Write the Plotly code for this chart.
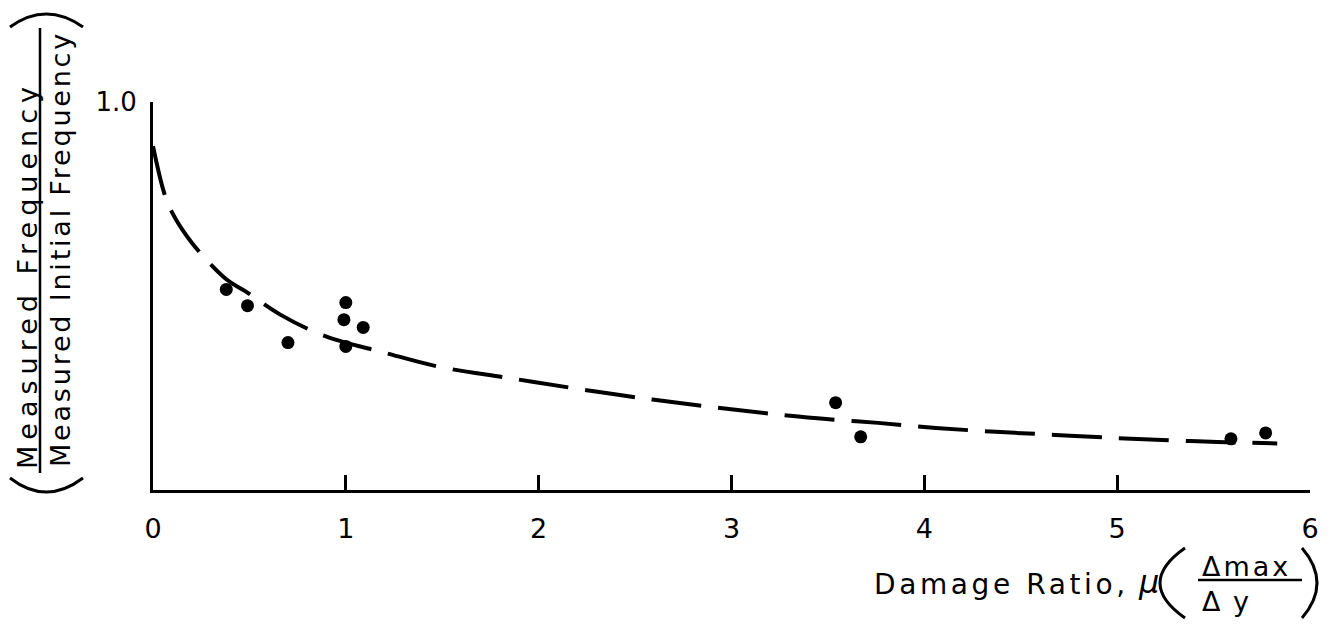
import plotly.graph_objects as go

# ---- data ----
damage_ratio = [0.38, 0.49, 0.70, 1.00, 0.99, 1.09, 1.00, 3.54, 3.67, 5.59, 5.77]
freq_ratio = [0.517, 0.475, 0.380, 0.483, 0.439, 0.419, 0.370, 0.225, 0.137, 0.132, 0.147]

curve_x = [0.0, 0.057, 0.098, 0.20, 0.38, 0.48, 0.66, 0.90, 1.20, 1.48, 1.84, 2.20,
           2.59, 2.93, 3.25, 3.54, 3.76, 4.06, 4.37, 4.68, 4.99, 5.27, 5.52, 5.83]
curve_y = [0.886, 0.767, 0.716, 0.638, 0.543, 0.512, 0.452, 0.395, 0.354, 0.318, 0.289, 0.261,
           0.233, 0.212, 0.194, 0.181, 0.173, 0.160, 0.150, 0.142, 0.134, 0.128, 0.124, 0.120]

x_ticks = [0, 1, 2, 3, 4, 5, 6]
x_ticklabels = ["0", "1", "2", "3", "4", "5", "6"]
y_ticks = [1.0]
y_ticklabels = ["1.0"]

FONT = "DejaVu Sans"
W, H = 1337, 626
L, R, T, B = 153, 27, 102, 136


def px(xp):
    return (xp - L) / (W - L - R)


def py(yp):
    return (H - B - yp) / (H - T - B)


fig = go.Figure()
fig.add_trace(go.Scatter(
    x=curve_x, y=curve_y, mode="lines", line=dict(color="black", width=4, dash="50px,17px", shape="spline"),
    hoverinfo="skip", showlegend=False))
fig.add_trace(go.Scatter(
    x=damage_ratio, y=freq_ratio, mode="markers", marker=dict(color="black", size=13),
    showlegend=False))

ann = []
# y-axis title (fraction)
ann.append(dict(x=px(27), y=py(275), xref="paper", yref="paper", textangle=-90, showarrow=False,
                text='<span style="letter-spacing:6px">Measured Frequency</span>',
                font=dict(family=FONT, size=27, color="black"), xanchor="center", yanchor="middle"))
ann.append(dict(x=px(60), y=py(249), xref="paper", yref="paper", textangle=-90, showarrow=False,
                text='<span style="letter-spacing:2.8px">Measured Initial Frequency</span>',
                font=dict(family=FONT, size=27, color="black"), xanchor="center", yanchor="middle"))
# x-axis title
ann.append(dict(x=px(872), y=py(584), xref="paper", yref="paper", showarrow=False,
                text='<span style="letter-spacing:3.6px">Damage Ratio,</span>',
                font=dict(family=FONT, size=28, color="black"), xanchor="left", yanchor="middle"))
ann.append(dict(x=px(1148), y=py(582), xref="paper", yref="paper", showarrow=False,
                text='<i>μ</i>', font=dict(family=FONT, size=32, color="black"),
                xanchor="center", yanchor="middle"))
ann.append(dict(x=px(1200), y=py(566), xref="paper", yref="paper", showarrow=False,
                text='<span style="letter-spacing:3px">Δmax</span>',
                font=dict(family=FONT, size=27, color="black"), xanchor="left", yanchor="middle"))
ann.append(dict(x=px(1200), y=py(601), xref="paper", yref="paper", showarrow=False,
                text='<span style="letter-spacing:2px">Δ y</span>',
                font=dict(family=FONT, size=27, color="black"), xanchor="left", yanchor="middle"))

shapes = []
line_style = dict(color="black", width=2.5)
# y-title fraction bar and parentheses
shapes.append(dict(type="line", xref="paper", yref="paper", x0=px(40), x1=px(40), y0=py(28), y1=py(473),
                   line=line_style))
shapes.append(dict(type="path", xref="paper", yref="paper",
                   path=f"M {px(10)},{py(27)} Q {px(46)},{py(1)} {px(83)},{py(27)}", line=dict(color="black", width=3)))
shapes.append(dict(type="path", xref="paper", yref="paper",
                   path=f"M {px(10)},{py(478)} Q {px(46)},{py(506)} {px(83)},{py(478)}", line=dict(color="black", width=3)))
# x-title fraction bar and parentheses
shapes.append(dict(type="line", xref="paper", yref="paper", x0=px(1198), x1=px(1302), y0=py(580), y1=py(580),
                   line=line_style))
shapes.append(dict(type="path", xref="paper", yref="paper",
                   path=f"M {px(1185)},{py(548)} Q {px(1135)},{py(583)} {px(1185)},{py(618)}", line=dict(color="black", width=3)))
shapes.append(dict(type="path", xref="paper", yref="paper",
                   path=f"M {px(1302)},{py(548)} Q {px(1332)},{py(583)} {px(1302)},{py(618)}", line=dict(color="black", width=3)))

fig.update_layout(
    width=W, height=H,
    margin=dict(l=L, r=R, t=T, b=B),
    paper_bgcolor="white", plot_bgcolor="white",
    font=dict(family=FONT, color="black"),
    annotations=ann, shapes=shapes,
    xaxis=dict(range=[0, 6], showgrid=False, zeroline=False, showline=True, linecolor="black", linewidth=3,
               ticks="inside", ticklen=15, tickwidth=3, tickcolor="black",
               tickvals=x_ticks, ticktext=x_ticklabels, tickfont=dict(family=FONT, size=27, color="black"),
               ticklabelstandoff=13),
    yaxis=dict(range=[0, 1.0], showgrid=False, zeroline=False, showline=True, linecolor="black", linewidth=3,
               ticks="inside", ticklen=15, tickwidth=3, tickcolor="black",
               tickvals=y_ticks, ticktext=y_ticklabels, tickfont=dict(family=FONT, size=26, color="black"),
               ticklabelstandoff=8),
)

fig.write_html("out.html", config={"displayModeBar": False},
               post_script="document.body.style.margin='0';document.body.style.overflow='hidden';")
